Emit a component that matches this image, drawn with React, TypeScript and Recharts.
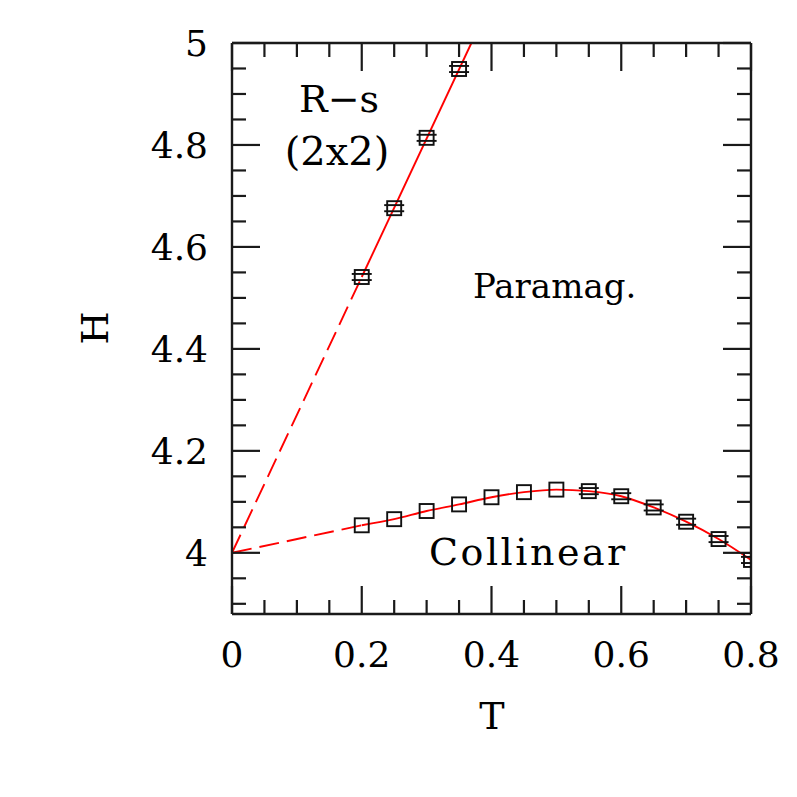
import { ComposedChart, Line, Scatter, XAxis, YAxis } from 'recharts'

// R-s (2x2) boundary points and fitted line
const rsT = [0.2, 0.25, 0.3, 0.35]
const rsH = [4.541, 4.676, 4.814, 4.949]
const rsErr = [0.006, 0.006, 0.006, 0.006]
const rsFitDashed = [{ t: 0, h: 4 }, { t: 0.2, h: 4.541 }]
const rsFitSolid = [{ t: 0.2, h: 4.541 }, { t: 0.369, h: 5 }]

// Collinear boundary points
const colT = [0.2, 0.25, 0.3, 0.35, 0.4, 0.45, 0.5, 0.55, 0.6, 0.65, 0.7, 0.75, 0.8]
const colH = [4.054, 4.066, 4.082, 4.095, 4.109, 4.119, 4.124, 4.121, 4.111, 4.089, 4.061, 4.027, 3.986]
const colErr = [0, 0, 0, 0, 0, 0, 0, 0.006, 0.006, 0.006, 0.006, 0.006, 0.006]
const colFitDashed = [{ t: 0, h: 4 }, { t: 0.2, h: 4.054 }]

const xTicks = [0, 0.05, 0.1, 0.15, 0.2, 0.25, 0.3, 0.35, 0.4, 0.45, 0.5, 0.55, 0.6, 0.65, 0.7, 0.75, 0.8]
const yTicks = [3.9, 3.95, 4, 4.05, 4.1, 4.15, 4.2, 4.25, 4.3, 4.35, 4.4, 4.45, 4.5, 4.55, 4.6, 4.65, 4.7, 4.75, 4.8, 4.85, 4.9, 4.95, 5]

const rsData = rsT.map((t, i) => ({ t, h: rsH[i], err: rsErr[i] }))
const colData = colT.map((t, i) => ({ t, h: colH[i], err: colErr[i] }))

const FONT = '"DejaVu Serif", serif'
const FRAME = '#1a1a1a'
const RED = '#ff0000'
const PX_PER_H = 510

const isMajorX = (v: number) => Math.abs(v * 5 - Math.round(v * 5)) < 1e-6
const isMajorY = (v: number) => Math.abs((v - 4) * 5 - Math.round((v - 4) * 5)) < 1e-6
const fmt = (v: number) => String(Math.round(v * 10) / 10)

const MINOR = 14
const MAJOR = 28

function BottomTick(props: any) {
  const { x, y, payload } = props
  const major = isMajorX(payload.value)
  return (
    <g>
      <line x1={x} y1={y} x2={x} y2={y - (major ? MAJOR : MINOR)} stroke={FRAME} strokeWidth={2.2} />
      {major && (
        <text x={x} y={y + 53} textAnchor="middle" fontFamily={FONT} fontSize={36} fill="#000">
          {fmt(payload.value)}
        </text>
      )}
    </g>
  )
}

function TopTick(props: any) {
  const { x, y, payload } = props
  const major = isMajorX(payload.value)
  return <line x1={x} y1={y} x2={x} y2={y + (major ? MAJOR : MINOR)} stroke={FRAME} strokeWidth={2.2} />
}

function LeftTick(props: any) {
  const { x, y, payload } = props
  const major = isMajorY(payload.value)
  return (
    <g>
      <line x1={x} y1={y} x2={x + (major ? MAJOR : MINOR)} y2={y} stroke={FRAME} strokeWidth={2.2} />
      {major && payload.value >= 4 && (
        <text x={x - 24} y={y + 13} textAnchor="end" fontFamily={FONT} fontSize={36} fill="#000">
          {fmt(payload.value)}
        </text>
      )}
    </g>
  )
}

function RightTick(props: any) {
  const { x, y, payload } = props
  const major = isMajorY(payload.value)
  return <line x1={x} y1={y} x2={x - (major ? MAJOR : MINOR)} y2={y} stroke={FRAME} strokeWidth={2.2} />
}

function Marker(props: any) {
  const { cx, cy, payload } = props
  if (cx == null || cy == null) return null
  const s = 7
  const e = (payload?.err ?? 0) * PX_PER_H
  return (
    <g>
      <rect x={cx - s} y={cy - s} width={2 * s} height={2 * s} fill="none" stroke="#111" strokeWidth={1.9} />
      {e > 0 && (
        <>
          <line x1={cx - 10} y1={cy - e} x2={cx + 10} y2={cy - e} stroke="#111" strokeWidth={1.9} />
          <line x1={cx - 10} y1={cy + e} x2={cx + 10} y2={cy + e} stroke="#111" strokeWidth={1.9} />
        </>
      )}
    </g>
  )
}

export default function App() {
  return (
    <div style={{ position: 'absolute', left: 0, top: 0, width: 797, height: 797, background: '#fff' }}>
      <ComposedChart
        width={797}
        height={797}
        margin={{ top: 42, right: 45, bottom: 123, left: 132 }}
      >
        <XAxis
          xAxisId="bottom"
          dataKey="t"
          type="number"
          orientation="bottom"
          domain={[0, 0.8]}
          ticks={xTicks}
          interval={0}
          height={60}
          tickSize={0}
          tickMargin={0}
          tick={<BottomTick />}
          axisLine={{ stroke: FRAME, strokeWidth: 2.4 }}
          allowDataOverflow
        />
        <XAxis
          xAxisId="top"
          dataKey="t"
          type="number"
          orientation="top"
          domain={[0, 0.8]}
          ticks={xTicks}
          interval={0}
          height={1}
          tickSize={0}
          tickMargin={0}
          tick={<TopTick />}
          axisLine={{ stroke: FRAME, strokeWidth: 2.4 }}
          allowDataOverflow
        />
        <YAxis
          yAxisId="left"
          dataKey="h"
          type="number"
          orientation="left"
          domain={[3.88, 5]}
          ticks={yTicks}
          interval={0}
          width={100}
          tickSize={0}
          tickMargin={0}
          tick={<LeftTick />}
          axisLine={{ stroke: FRAME, strokeWidth: 2.4 }}
          allowDataOverflow
        />
        <YAxis
          yAxisId="right"
          dataKey="h"
          type="number"
          orientation="right"
          domain={[3.88, 5]}
          ticks={yTicks}
          interval={0}
          width={1}
          tickSize={0}
          tickMargin={0}
          tick={<RightTick />}
          axisLine={{ stroke: FRAME, strokeWidth: 2.4 }}
          allowDataOverflow
        />
        {/* invisible series so the top and right frame axes get drawn */}
        <Line xAxisId="top" yAxisId="right" data={rsFitSolid} dataKey="h" stroke="none" dot={false} legendType="none" isAnimationActive={false} />
        <Line xAxisId="bottom" yAxisId="left" data={rsFitDashed} dataKey="h" type="linear" stroke={RED} strokeWidth={1.9} strokeDasharray="20 8" dot={false} isAnimationActive={false} />
        <Line xAxisId="bottom" yAxisId="left" data={rsFitSolid} dataKey="h" type="linear" stroke={RED} strokeWidth={1.9} dot={false} isAnimationActive={false} />
        <Line xAxisId="bottom" yAxisId="left" data={colFitDashed} dataKey="h" type="linear" stroke={RED} strokeWidth={1.9} strokeDasharray="20 8" dot={false} isAnimationActive={false} />
        <Line xAxisId="bottom" yAxisId="left" data={colData} dataKey="h" type="monotone" stroke={RED} strokeWidth={1.9} dot={false} isAnimationActive={false} />
        <Scatter xAxisId="bottom" yAxisId="left" data={rsData} dataKey="h" shape={<Marker />} isAnimationActive={false} />
        <Scatter xAxisId="bottom" yAxisId="left" data={colData} dataKey="h" shape={<Marker />} isAnimationActive={false} />
      </ComposedChart>
      <svg width={797} height={797} style={{ position: 'absolute', left: 0, top: 0, pointerEvents: 'none' }}>
        <text x={339} y={112} textAnchor="middle" fontFamily={FONT} fontSize={38} fill="#000">R−s</text>
        <text x={337} y={165} textAnchor="middle" fontFamily={FONT} fontSize={40} fill="#000">(2x2)</text>
        <text x={473} y={298} fontFamily={FONT} fontSize={34} fill="#000">Paramag.</text>
        <text x={429} y={565} fontFamily={FONT} fontSize={38} letterSpacing={2.5} fill="#000">Collinear</text>
        <text x={492} y={729} textAnchor="middle" fontFamily={FONT} fontSize={38} fill="#000">T</text>
        <text x={0} y={0} transform="translate(108 328) rotate(-90)" textAnchor="middle" fontFamily={FONT} fontSize={38} fill="#000">H</text>
      </svg>
    </div>
  )
}
